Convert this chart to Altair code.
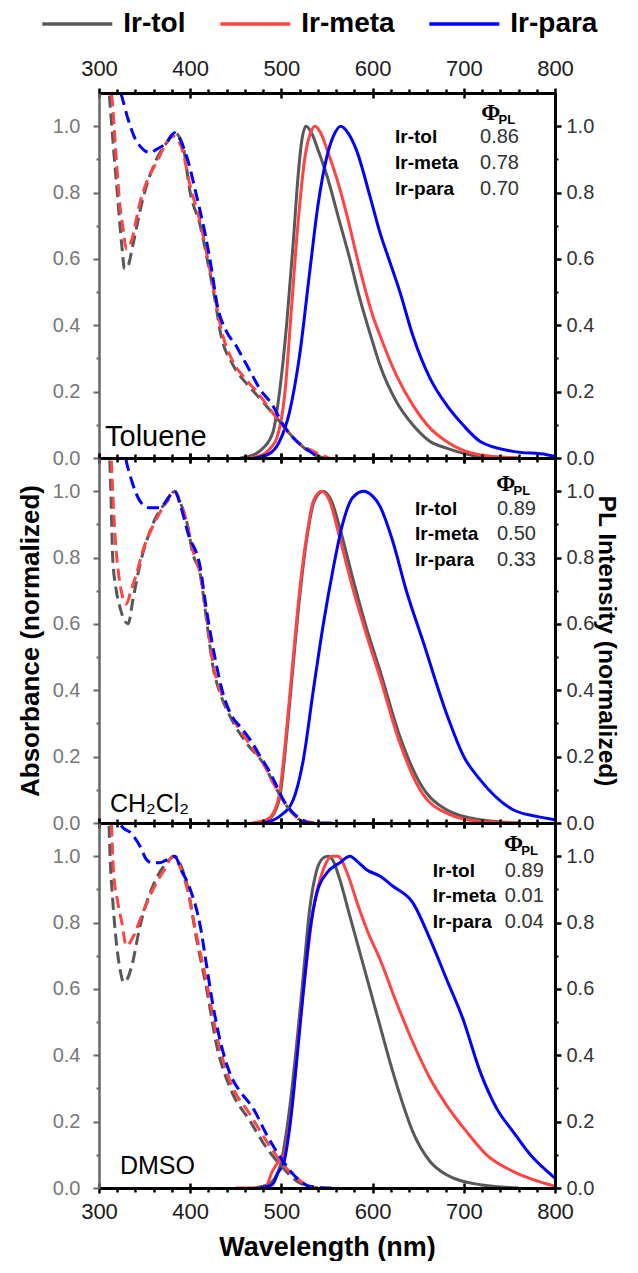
import altair as alt
import pandas as pd

# ---------------- data ----------------
COMPOUNDS = ["Ir-tol", "Ir-meta", "Ir-para"]
COLORS = ["#585858", "#ff4444", "#0000ff"]
SOLVENTS = ["Toluene", "CH₂Cl₂", "DMSO"]

# (wavelength nm, normalized value)
# Toluene
toluene_tol_abs = [(308, 1.2), (312, 1.07), (316, 0.93), (320, 0.80), (325, 0.64), (328, 0.57), (332, 0.58),
                   (337, 0.64), (348, 0.78), (363, 0.90), (374, 0.95), (383, 0.98), (392, 0.94), (400, 0.80),
                   (411, 0.70), (420, 0.58), (427, 0.48), (433, 0.38), (447, 0.28), (460, 0.23), (473, 0.19),
                   (495, 0.12), (517, 0.05), (530, 0.02), (546, 0.0)]
toluene_meta_abs = [(312, 1.15), (315, 1.06), (319, 0.90), (323, 0.76), (326, 0.70), (330, 0.63), (335, 0.65),
                    (345, 0.77), (355, 0.85), (363, 0.89), (372, 0.94), (381, 0.97), (390, 0.94), (400, 0.82),
                    (411, 0.71), (420, 0.59), (427, 0.49), (433, 0.40), (447, 0.29), (460, 0.24), (473, 0.20),
                    (495, 0.12), (517, 0.05), (535, 0.02), (552, 0.0)]
toluene_para_abs = [(318, 1.15), (325, 1.09), (332, 1.02), (340, 0.96), (345, 0.94), (356, 0.92), (363, 0.93),
                    (374, 0.95), (383, 0.98), (389, 0.96), (396, 0.91), (407, 0.79), (416, 0.68), (424, 0.56),
                    (429, 0.47), (440, 0.38), (450, 0.34), (458, 0.30), (466, 0.26), (476, 0.21), (490, 0.16),
                    (502, 0.10), (517, 0.05), (531, 0.02), (542, 0.0)]
toluene_tol_pl = [(455, 0.0), (470, 0.01), (480, 0.03), (491, 0.08), (498, 0.20), (506, 0.41), (513, 0.65),
                  (518, 0.84), (522, 0.95), (527, 1.0), (533, 0.98), (540, 0.93), (550, 0.85), (564, 0.71),
                  (575, 0.60), (586, 0.48), (600, 0.35), (608, 0.28), (626, 0.17), (644, 0.10), (663, 0.05),
                  (681, 0.03), (718, 0.005), (760, 0.0)]
toluene_meta_pl = [(465, 0.0), (480, 0.01), (488, 0.03), (495, 0.06), (504, 0.20), (511, 0.45), (518, 0.70),
                   (526, 0.91), (532, 0.98), (537, 1.0), (543, 0.98), (550, 0.93), (561, 0.84), (572, 0.73),
                   (586, 0.57), (600, 0.43), (608, 0.37), (626, 0.25), (644, 0.16), (663, 0.09), (681, 0.05),
                   (717, 0.01), (760, 0.0)]
toluene_para_pl = [(470, 0.0), (485, 0.01), (498, 0.05), (509, 0.14), (520, 0.31), (531, 0.56), (540, 0.76),
                   (550, 0.91), (557, 0.97), (565, 1.0), (573, 0.98), (582, 0.93), (597, 0.79), (608, 0.68),
                   (619, 0.59), (630, 0.50), (644, 0.37), (663, 0.24), (681, 0.16), (699, 0.10), (718, 0.05),
                   (754, 0.02), (791, 0.01), (800, 0.005)]

# CH2Cl2
ch2cl2_tol_abs = [(310, 1.2), (313, 1.0), (315, 0.80), (319, 0.70), (323, 0.65), (328, 0.61), (332, 0.60),
                  (337, 0.67), (345, 0.78), (356, 0.88), (366, 0.94), (375, 0.97), (383, 1.0), (390, 0.96),
                  (396, 0.91), (403, 0.81), (411, 0.75), (418, 0.61), (425, 0.47), (433, 0.39), (444, 0.32),
                  (462, 0.24), (480, 0.18), (495, 0.10), (509, 0.04), (520, 0.01), (530, 0.0)]
ch2cl2_meta_abs = [(312, 1.2), (315, 1.0), (318, 0.85), (322, 0.74), (326, 0.68), (330, 0.66), (335, 0.70),
                   (341, 0.75), (348, 0.82), (360, 0.90), (372, 0.96), (382, 1.0), (390, 0.96), (396, 0.91),
                   (403, 0.82), (411, 0.75), (418, 0.62), (425, 0.48), (433, 0.40), (444, 0.33), (462, 0.25),
                   (480, 0.18), (495, 0.10), (509, 0.04), (520, 0.01), (540, 0.0)]
ch2cl2_para_abs = [(326, 1.15), (330, 1.09), (336, 1.03), (345, 0.97), (355, 0.95), (367, 0.95), (376, 0.98),
                   (383, 1.0), (390, 0.95), (398, 0.87), (411, 0.77), (418, 0.64), (427, 0.50), (436, 0.39),
                   (446, 0.32), (455, 0.29), (466, 0.25), (477, 0.20), (488, 0.15), (495, 0.11), (502, 0.07),
                   (513, 0.03), (523, 0.01), (530, 0.0), (555, 0.0)]
ch2cl2_tol_pl = [(470, 0.0), (485, 0.01), (492, 0.03), (499, 0.09), (506, 0.27), (513, 0.48), (520, 0.68),
                 (528, 0.86), (536, 0.97), (546, 1.0), (555, 0.97), (564, 0.89), (578, 0.74), (593, 0.59),
                 (608, 0.46), (630, 0.26), (652, 0.12), (681, 0.04), (718, 0.01), (760, 0.0)]
ch2cl2_meta_pl = [(468, 0.0), (484, 0.01), (491, 0.03), (498, 0.09), (506, 0.29), (513, 0.50), (520, 0.70),
                  (528, 0.87), (535, 0.97), (544, 1.0), (553, 0.97), (563, 0.87), (578, 0.71), (593, 0.57),
                  (608, 0.44), (630, 0.24), (652, 0.10), (681, 0.03), (718, 0.005), (760, 0.0)]
ch2cl2_para_pl = [(480, 0.0), (498, 0.02), (513, 0.07), (524, 0.19), (535, 0.40), (546, 0.60), (557, 0.77),
                  (567, 0.90), (578, 0.98), (590, 1.0), (600, 0.985), (608, 0.955), (622, 0.85), (637, 0.70),
                  (655, 0.55), (681, 0.33), (700, 0.20), (718, 0.13), (754, 0.04), (780, 0.02), (800, 0.01)]

# DMSO
dmso_tol_abs = [(310, 1.2), (312, 1.01), (315, 0.87), (319, 0.74), (323, 0.66), (327, 0.62), (331, 0.63),
                (336, 0.67), (345, 0.79), (359, 0.91), (374, 0.98), (383, 1.0), (390, 0.97), (396, 0.92),
                (407, 0.75), (418, 0.60), (429, 0.43), (444, 0.30), (466, 0.20), (484, 0.12), (502, 0.06),
                (517, 0.02), (531, 0.005), (540, 0.0)]
dmso_meta_abs = [(313, 1.15), (316, 0.95), (320, 0.87), (325, 0.80), (330, 0.73), (338, 0.76), (348, 0.83),
                 (363, 0.92), (372, 0.96), (381, 1.0), (390, 0.96), (396, 0.91), (407, 0.76), (418, 0.62),
                 (429, 0.46), (444, 0.32), (466, 0.22), (484, 0.14), (502, 0.07), (517, 0.03), (531, 0.005),
                 (540, 0.0)]
dmso_para_abs = [(318, 1.2), (325, 1.09), (335, 1.07), (345, 1.03), (352, 0.99), (358, 0.98), (366, 0.98),
                 (375, 0.99), (383, 1.0), (390, 0.96), (400, 0.90), (411, 0.79), (418, 0.67), (425, 0.55),
                 (436, 0.41), (446, 0.33), (455, 0.29), (469, 0.24), (484, 0.16), (502, 0.08), (517, 0.03),
                 (531, 0.005), (555, 0.0)]
dmso_tol_pl = [(470, 0.0), (485, 0.01), (493, 0.03), (499, 0.07), (509, 0.24), (517, 0.44), (524, 0.64),
               (531, 0.84), (539, 0.96), (546, 0.995), (551, 1.0), (557, 0.985), (564, 0.93), (575, 0.82),
               (586, 0.71), (597, 0.60), (608, 0.49), (619, 0.38), (630, 0.28), (644, 0.17), (663, 0.08),
               (681, 0.04), (718, 0.01), (760, 0.0)]
dmso_meta_pl = [(450, 0.0), (482, 0.0), (490, 0.05), (497, 0.08), (503, 0.10), (508, 0.17), (513, 0.28),
                (520, 0.49), (528, 0.69), (535, 0.84), (546, 0.96), (555, 1.0), (562, 1.0), (572, 0.95),
                (583, 0.86), (595, 0.77), (608, 0.69), (626, 0.56), (644, 0.44), (663, 0.33), (681, 0.25),
                (703, 0.17), (725, 0.10), (754, 0.05), (776, 0.025), (800, 0.005)]
dmso_para_pl = [(476, 0.0), (490, 0.01), (497, 0.05), (502, 0.07), (509, 0.18), (517, 0.39), (524, 0.59),
                (531, 0.77), (539, 0.89), (550, 0.95), (564, 0.98), (575, 1.0), (585, 0.98), (593, 0.96),
                (608, 0.94), (622, 0.91), (644, 0.86), (663, 0.75), (681, 0.63), (699, 0.51), (718, 0.35),
                (736, 0.24), (754, 0.17), (773, 0.10), (800, 0.03)]

# photoluminescence quantum yields
phi_toluene = [0.86, 0.78, 0.70]
phi_ch2cl2 = [0.89, 0.50, 0.33]
phi_dmso = [0.89, 0.01, 0.04]

X_MAJOR = [300, 400, 500, 600, 700, 800]
X_MINOR = [v for v in range(300, 801, 20) if v % 100 != 0]
Y_MAJOR = [0.0, 0.2, 0.4, 0.6, 0.8, 1.0]
Y_MINOR = [0.1, 0.3, 0.5, 0.7, 0.9]

CURVES = {
    "Toluene": [(toluene_tol_abs, toluene_meta_abs, toluene_para_abs),
                (toluene_tol_pl, toluene_meta_pl, toluene_para_pl)],
    "CH₂Cl₂": [(ch2cl2_tol_abs, ch2cl2_meta_abs, ch2cl2_para_abs),
               (ch2cl2_tol_pl, ch2cl2_meta_pl, ch2cl2_para_pl)],
    "DMSO": [(dmso_tol_abs, dmso_meta_abs, dmso_para_abs),
             (dmso_tol_pl, dmso_meta_pl, dmso_para_pl)],
}
PHI = {"Toluene": phi_toluene, "CH₂Cl₂": phi_ch2cl2, "DMSO": phi_dmso}

# ---------------- layout / style ----------------
FONT = "Arial, Liberation Sans, sans-serif"
PHI_FONT = "Times New Roman, Liberation Serif, serif"
W, H = 456, 365
XS = alt.Scale(domain=[300, 800], nice=False, zero=False)
YS = alt.Scale(domain=[0, 1.1], nice=False, zero=False)

LAYOUT = {
    "Toluene": dict(name_x=624.6, val_x=717.8, row_y=[0.949, 0.871, 0.793], phi_x=719, phi_y=1.018,
                    pl_x=738, pl_y=1.008, lab_x=306.6, lab_y=0.036, lab_size=29),
    "CH₂Cl₂": dict(name_x=646.5, val_x=736.4, row_y=[0.927, 0.852, 0.776], phi_x=735.5, phi_y=1.0,
                   pl_x=754.5, pl_y=0.99, lab_x=312, lab_y=0.033, lab_size=25),
    "DMSO": dict(name_x=666, val_x=745, row_y=[0.936, 0.861, 0.785], phi_x=744, phi_y=1.015,
                 pl_x=763, pl_y=1.005, lab_x=323, lab_y=0.042, lab_size=25),
}

rows = []
for solvent, (abs_set, pl_set) in CURVES.items():
    for kind, sets in (("abs", abs_set), ("pl", pl_set)):
        for comp, pts in zip(COMPOUNDS, sets):
            for w, v in pts:
                rows.append(dict(solvent=solvent, compound=comp, kind=kind, wl=w, val=v))
df = pd.DataFrame(rows)

LEGEND = alt.Legend(orient="none", legendX=-35.7, legendY=-83, direction="horizontal", title=None,
                    symbolType="M-3,0L3,0", symbolSize=544, symbolStrokeWidth=3.5,
                    labelFontSize=28, labelFontWeight="bold", labelFont=FONT, labelColor="black",
                    labelOffset=32, columnPadding=27)

COLOR = alt.Color("compound:N", scale=alt.Scale(domain=COMPOUNDS, range=COLORS), sort=COMPOUNDS,
                  legend=LEGEND)


def x_axis(orient, major, labels, title):
    kw = dict(orient=orient, grid=False, zindex=1, labelFlush=False, labelOverlap=False,
              tickColor="black", domainColor="black", domainWidth=3, tickWidth=2.5)
    if major:
        kw.update(values=X_MAJOR, tickSize=10, offset=-5, domain=False, labels=labels,
                  labelFontSize=22, labelFont=FONT, labelColor="#1a1a1a", labelPadding=8)
    else:
        kw.update(values=X_MINOR, tickSize=4, domain=True, labels=False)
    kw["title"] = title
    if title:
        kw.update(titleFontSize=27, titleFontWeight="bold", titleFont=FONT, titleColor="black", titlePadding=12)
    return alt.Axis(**kw)


def y_axis(orient, major, title):
    left = orient == "left"
    col = "#666666" if left else "black"
    kw = dict(orient=orient, grid=False, zindex=1, labelFlush=False, labelOverlap=False, tickColor=col)
    if major:
        kw.update(values=Y_MAJOR, format=".1f", tickSize=6, tickWidth=2 if left else 2.5, domain=True,
                  domainColor=col, domainWidth=2.5 if left else 3, labelFontSize=20, labelFont=FONT,
                  labelColor="#777777" if left else "#333333", labelPadding=13 if left else 5)
    else:
        kw.update(values=Y_MINOR, tickSize=3, tickWidth=2, domain=False, labels=False)
    kw["title"] = title
    if title:
        kw.update(titleFontSize=26 if left else 24.5, titleFontWeight="bold", titleFont=FONT, titleColor="black",
                  titlePadding=9 if left else 0)
    return alt.Axis(**kw)


def panel(i, solvent):
    d = df[df.solvent == solvent]
    lay = LAYOUT[solvent]
    base = alt.Chart(d)
    xenc = alt.X("wl:Q", scale=XS, axis=None)
    yenc = alt.Y("val:Q", scale=YS, axis=None)

    pl_line = base.transform_filter("datum.kind == 'pl'").mark_line(
        strokeWidth=3, clip=True, interpolate="monotone"
    ).encode(x=xenc, y=yenc, color=COLOR)
    abs_line = base.transform_filter("datum.kind == 'abs'").mark_line(
        strokeWidth=3, strokeDash=[12, 6], clip=True, interpolate="monotone"
    ).encode(x=xenc, y=yenc, color=COLOR)

    tdf = pd.DataFrame({"name": COMPOUNDS,
                        "phi": ["%.2f" % v for v in PHI[solvent]],
                        "ny": lay["row_y"]})
    names = alt.Chart(tdf).mark_text(align="left", baseline="alphabetic", font=FONT, fontSize=19,
                                     fontWeight="bold", color="black").encode(
        x=alt.X("nx:Q", scale=XS, axis=None), y=alt.Y("ny:Q", scale=YS, axis=None), text="name:N"
    ).transform_calculate(nx=str(lay["name_x"]))
    vals = alt.Chart(tdf).mark_text(align="left", baseline="alphabetic", font=FONT, fontSize=20,
                                    color="#333333").encode(
        x=alt.X("vx:Q", scale=XS, axis=None), y=alt.Y("ny:Q", scale=YS, axis=None), text="phi:N"
    ).transform_calculate(vx=str(lay["val_x"]))

    hdf = pd.DataFrame({"t": ["Φ", "PL"], "hx": [lay["phi_x"], lay["pl_x"]], "hy": [lay["phi_y"], lay["pl_y"]]})
    phi_h = alt.Chart(hdf.iloc[:1]).mark_text(align="left", baseline="alphabetic", font=PHI_FONT,
                                             fontSize=23, fontWeight="bold", color="black").encode(
        x=alt.X("hx:Q", scale=XS, axis=None), y=alt.Y("hy:Q", scale=YS, axis=None), text="t:N")
    pl_h = alt.Chart(hdf.iloc[1:]).mark_text(align="left", baseline="alphabetic", font=FONT,
                                            fontSize=13, fontWeight="bold", color="black").encode(
        x=alt.X("hx:Q", scale=XS, axis=None), y=alt.Y("hy:Q", scale=YS, axis=None), text="t:N")

    sdf = pd.DataFrame({"s": [solvent], "sx": [lay["lab_x"]], "sy": [lay["lab_y"]]})
    solv = alt.Chart(sdf).mark_text(align="left", baseline="alphabetic", font=FONT, fontSize=lay["lab_size"],
                                    color="black").encode(
        x=alt.X("sx:Q", scale=XS, axis=None), y=alt.Y("sy:Q", scale=YS, axis=None), text="s:N")

    def helper(xa, ya):
        return base.transform_filter("datum.val <= 1.1").mark_point(opacity=0, size=1).encode(
            x=alt.X("wl:Q", scale=XS, axis=xa), y=alt.Y("val:Q", scale=YS, axis=ya))

    h1 = helper(x_axis("bottom", True, i == 2, "Wavelength (nm)" if i == 2 else None),
                y_axis("left", True, "Absorbance (normalized)" if i == 1 else None))
    h2 = helper(x_axis("bottom", False, False, None), y_axis("left", False, None))
    h3 = helper(x_axis("top", True, i == 0, None),
                y_axis("right", True, "PL Intensity (normalized)" if i == 1 else None))
    h4 = helper(x_axis("top", False, False, None), y_axis("right", False, None))

    return alt.layer(pl_line, abs_line, names, vals, phi_h, pl_h, solv, h1, h2, h3, h4).resolve_axis(
        x="independent", y="independent").properties(width=W, height=H)


chart = alt.vconcat(*[panel(i, s) for i, s in enumerate(SOLVENTS)], spacing=0, bounds="flush").properties(
    padding={"left": 8, "top": 2, "right": 2, "bottom": 0}
).configure_view(stroke=None).configure(font=FONT)

chart.save("out.html", embed_options={"renderer": "svg", "actions": False})
